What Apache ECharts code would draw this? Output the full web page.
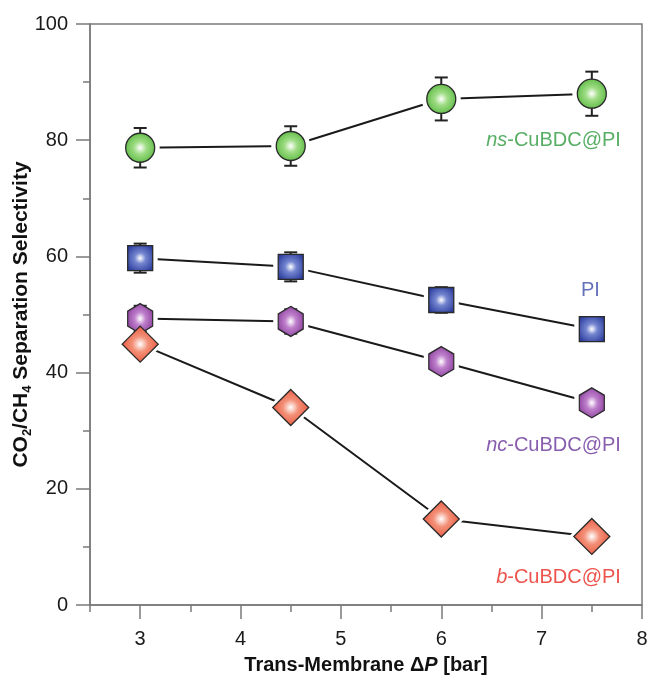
<!DOCTYPE html>
<html>
<head>
<meta charset="utf-8">
<script src="https://cdn.jsdelivr.net/npm/echarts@6/dist/echarts.min.js"></script>
<style>html,body{margin:0;padding:0;background:#fff}#c{width:647px;height:676px}</style>
</head>
<body>
<div id="c"></div>
<script>
// ---- data ----
const xValues = [3, 4.5, 6, 7.5];
const nsValues = [78.7, 79.0, 87.1, 88.0];
const nsErr = [3.4, 3.4, 3.7, 3.8];
const piValues = [59.7, 58.2, 52.5, 47.5];
const piErr = [2.5, 2.5, 2.2, 1.8];
const ncValues = [49.3, 48.8, 41.9, 34.8];
const ncErr = [2.2, 2.1, 1.5, 1.0];
const bValues = [44.9, 34.0, 14.8, 11.8];
const bErr = [0, 0, 0, 0];
const xMajorTicks = [3, 4, 5, 6, 7, 8];
const xMinorTicks = [2.5, 3.5, 4.5, 5.5, 6.5, 7.5];
const seriesNames = ['ns-CuBDC@PI', 'PI', 'nc-CuBDC@PI', 'b-CuBDC@PI'];
const labelAnchors = [[7.79, 80.0], [7.58, 54.2], [7.79, 27.5], [7.79, 4.8]];

const FONT = '"Liberation Sans", Arial, Helvetica, sans-serif';
const hexPath = 'path://M0,-1L0.866,-0.5L0.866,0.5L0,1L-0.866,0.5L-0.866,-0.5Z';

function radial(edge, mid) {
  return {type: 'radial', x: 0.5, y: 0.5, r: 0.6,
    colorStops: [{offset: 0, color: '#ffffff'}, {offset: 0.35, color: mid}, {offset: 1, color: edge}]};
}

const defs = [
  {vals: nsValues, err: nsErr, symbol: 'circle', size: 29, fill: radial('#4fb336', '#9edc84'), text: '#2e9a3e', lbl: '{i|ns}-CuBDC@PI'},
  {vals: piValues, err: piErr, symbol: 'rect', size: 25, fill: radial('#2a3c9c', '#7485d0'), text: '#3f4ea8', lbl: 'PI'},
  {vals: ncValues, err: ncErr, symbol: hexPath, size: [25, 30], fill: radial('#833595', '#bf80cc'), text: '#6a3599', lbl: '{i|nc}-CuBDC@PI'},
  {vals: bValues, err: bErr, symbol: 'diamond', size: 36, fill: radial('#e64a2e', '#f39078'), text: '#e8281f', lbl: '{i|b}-CuBDC@PI'}
];

function pairs(vals) { return xValues.map((x, i) => [x, vals[i]]); }
function haloSize(s) { return Array.isArray(s) ? [s[0] + 10, s[1] + 10] : s + 10; }

const series = [];
defs.forEach((d, k) => {
  series.push({
    type: 'line', name: seriesNames[k], data: pairs(d.vals), z: 1, xAxisIndex: 0,
    symbol: d.symbol, symbolSize: haloSize(d.size), showAllSymbol: true,
    itemStyle: {color: '#ffffff', borderWidth: 0},
    lineStyle: {color: '#1a1a1a', width: 2}, silent: true, animation: false
  });
});
defs.forEach((d, k) => {
  const errData = xValues.map((x, i) => [x, d.vals[i] - d.err[i], d.vals[i] + d.err[i]]).filter(r => r[2] > r[1]);
  series.push({
    type: 'custom', z: 3, animation: false, silent: true, xAxisIndex: 0,
    data: errData,
    renderItem: function (params, api) {
      const lo = api.coord([api.value(0), api.value(1)]);
      const hi = api.coord([api.value(0), api.value(2)]);
      const w = 6.5;
      const st = {stroke: '#222', lineWidth: 2};
      return {type: 'group', children: [
        {type: 'line', shape: {x1: lo[0], y1: lo[1], x2: hi[0], y2: hi[1]}, style: st},
        {type: 'line', shape: {x1: lo[0] - w, y1: lo[1], x2: lo[0] + w, y2: lo[1]}, style: st},
        {type: 'line', shape: {x1: hi[0] - w, y1: hi[1], x2: hi[0] + w, y2: hi[1]}, style: st}
      ]};
    }
  });
});
defs.forEach((d, k) => {
  series.push({
    type: 'scatter', z: 4, animation: false, xAxisIndex: 0,
    data: pairs(d.vals), symbol: d.symbol, symbolSize: d.size,
    itemStyle: {color: d.fill, borderColor: '#2a2a2a', borderWidth: 1.3, opacity: 1}
  });
});
defs.forEach((d, k) => {
  series.push({
    type: 'scatter', z: 5, animation: false, silent: true, xAxisIndex: 0,
    data: [labelAnchors[k]], symbolSize: 0,
    label: {show: true, position: 'left', distance: 0, formatter: d.lbl,
      color: d.text, fontSize: 20, fontFamily: FONT,
      rich: {i: {fontStyle: 'italic', color: d.text, fontSize: 20, fontFamily: FONT}}}
  });
});

const axisGray = '#7a7a7a';
const option = {
  backgroundColor: '#ffffff',
  animation: false,
  grid: {left: 90, right: 5, top: 24, bottom: 71, show: true, borderColor: axisGray, borderWidth: 1.5,
    backgroundColor: 'transparent', containLabel: false, outerBoundsMode: 'none'},
  xAxis: [{
    type: 'value', min: 2.5, max: 8,
    axisLine: {show: true, lineStyle: {color: axisGray, width: 1.5}},
    axisTick: {show: true, customValues: xMajorTicks, length: 14, lineStyle: {color: axisGray, width: 1.5}},
    axisLabel: {customValues: xMajorTicks, margin: 24, fontSize: 20, color: '#1a1a1a', fontFamily: FONT},
    splitLine: {show: false},
    name: '{b|Trans-Membrane Δ}{bi|P}{b| [bar]}',
    nameLocation: 'middle', nameGap: 50, nameMoveOverlap: false,
    nameTextStyle: {rich: {
      b: {fontSize: 20, fontWeight: 'bold', color: '#111', fontFamily: FONT},
      bi: {fontSize: 20, fontWeight: 'bold', fontStyle: 'italic', color: '#111', fontFamily: FONT}
    }}
  }, {
    type: 'value', min: 2.5, max: 8, position: 'bottom',
    axisLine: {show: false},
    axisTick: {show: true, customValues: xMinorTicks, length: 7, lineStyle: {color: axisGray, width: 1.5}},
    axisLabel: {show: false},
    splitLine: {show: false}
  }],
  yAxis: {
    type: 'value', min: 0, max: 100, interval: 20,
    axisLine: {show: true, lineStyle: {color: axisGray, width: 1.5}},
    axisTick: {show: true, length: 14, lineStyle: {color: axisGray, width: 1.5}},
    minorTick: {show: true, splitNumber: 2, length: 7, lineStyle: {color: axisGray, width: 1.5}},
    axisLabel: {margin: 22, fontSize: 20, color: '#1a1a1a', fontFamily: FONT},
    splitLine: {show: false},
    name: '{b|CO}{s|2}{b|/CH}{s|4}{b| Separation Selectivity}',
    nameLocation: 'middle', nameGap: 56, nameRotate: 90, nameMoveOverlap: false,
    nameTextStyle: {rich: {
      b: {fontSize: 21, fontWeight: 'bold', color: '#111', fontFamily: FONT, lineHeight: 26},
      s: {fontSize: 13, fontWeight: 'bold', color: '#111', fontFamily: FONT, verticalAlign: 'bottom', lineHeight: 14}
    }}
  },
  series: series
};

const chart = echarts.init(document.getElementById('c'), null, {renderer: 'canvas'});
chart.setOption(option);
</script>
</body>
</html>
